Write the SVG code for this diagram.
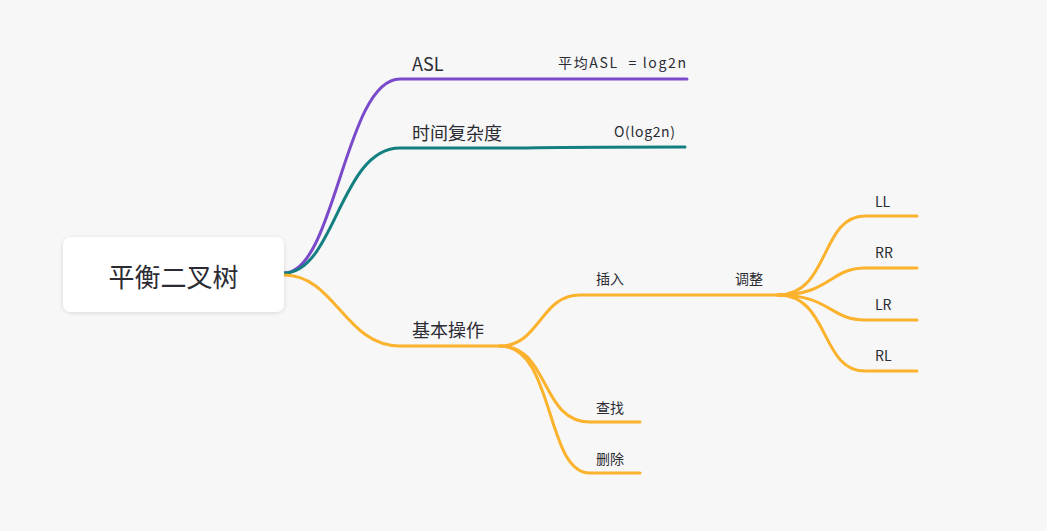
<svg xmlns="http://www.w3.org/2000/svg" width="1047" height="531" viewBox="0 0 1047 531">
<defs>
<filter id="sh" x="-20%" y="-30%" width="140%" height="160%">
<feDropShadow dx="0" dy="1" stdDeviation="2" flood-color="#000" flood-opacity="0.12"/>
</filter>
<style>
.t{font-family:"Noto Sans CJK SC","Noto Sans",sans-serif;fill:#2b2b33}
.l{fill:none;stroke-width:3;stroke-linecap:round}
.p{stroke:#7a4acb}.g{stroke:#137f80}.o{stroke:#fbb22c}
</style>
</defs>
<rect width="1047" height="531" fill="#f7f7f7"/>
<g id="connectors">
<path class="l p" d="M284,273 C335,273 345,79 400,79 L687,79"/>
<path class="l g" d="M284,273 C335,273 340,148 400,148 L520,148 C560,147 600,147 685,147"/>
<path class="l o" d="M284,275 C335,275 345,346 400,346 L500,346"/>
<path class="l o" d="M500,346 C540,346 540,295 580,295 L780,295"/>
<path class="l o" d="M500,346 C550,346 540,422 590,422 L640,422"/>
<path class="l o" d="M500,346 C555,346 545,473 590,473 L640,473"/>
<path class="l o" d="M778,295 C830,295 820,216 865,216 L917,216"/>
<path class="l o" d="M778,295 C830,295 830,268 865,268 L917,268"/>
<path class="l o" d="M778,295 C830,295 830,320 865,320 L917,320"/>
<path class="l o" d="M778,295 C830,295 820,371 865,371 L917,371"/>
</g>
<g id="root">
<rect x="63" y="237" width="221" height="75" rx="8" fill="#fff" filter="url(#sh)"/>
<text class="t" x="173.5" y="287" font-size="26" text-anchor="middle" fill="#333">平衡二叉树</text>
</g>
<g id="asl"><text class="t" x="412" y="71" font-size="18">ASL</text></g>
<g id="asl-val"><text class="t" x="558" y="68" font-size="14" textLength="128" lengthAdjust="spacing" xml:space="preserve">平均ASL  = log2n</text></g>
<g id="time"><text class="t" x="412" y="140" font-size="18">时间复杂度</text></g>
<g id="time-val"><text class="t" x="614" y="137" font-size="14" textLength="61" lengthAdjust="spacing">O(log2n)</text></g>
<g id="ops"><text class="t" x="412" y="337" font-size="18">基本操作</text></g>
<g id="insert"><text class="t" x="596" y="284" font-size="14">插入</text></g>
<g id="adjust"><text class="t" x="735" y="284" font-size="14">调整</text></g>
<g id="ll"><text class="t" x="875" y="207" font-size="14">LL</text></g>
<g id="rr"><text class="t" x="875" y="258" font-size="14">RR</text></g>
<g id="lr"><text class="t" x="875" y="310" font-size="14">LR</text></g>
<g id="rl"><text class="t" x="875" y="361" font-size="14">RL</text></g>
<g id="find"><text class="t" x="596" y="413" font-size="14">查找</text></g>
<g id="delete"><text class="t" x="596" y="464" font-size="14">删除</text></g>
</svg>
